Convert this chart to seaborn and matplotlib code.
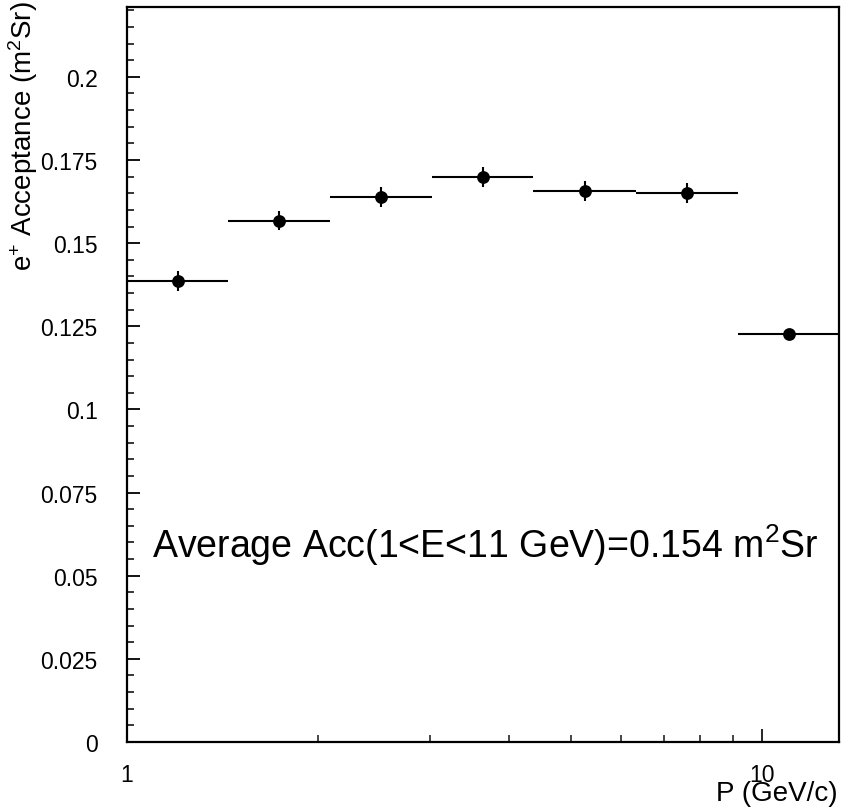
import numpy as np
import pandas as pd
import matplotlib
matplotlib.use("Agg")
import matplotlib.pyplot as plt
import matplotlib.transforms as mtrans
import seaborn as sns
from matplotlib.ticker import FixedLocator, NullFormatter, MultipleLocator

# ---- data ----
bin_edges = [1.0, 1.444, 2.088, 3.022, 4.363, 6.326, 9.167, 13.22]
acceptance = [0.1387, 0.1568, 0.1639, 0.1698, 0.1658, 0.1650, 0.1227]
acc_err = [0.0030, 0.0030, 0.0030, 0.0030, 0.0030, 0.0030, 0.0008]
y_ticks = [0, 0.025, 0.05, 0.075, 0.1, 0.125, 0.15, 0.175, 0.2]
y_tick_labels = ["0", "0.025", "0.05", "0.075", "0.1", "0.125", "0.15", "0.175", "0.2"]
x_ticks = [1, 10]
x_tick_labels = ["1", "10"]
annotation = r"Average Acc(1<E<11 GeV)=0.154 m$^2$Sr"

edges = np.array(bin_edges)
centers = np.sqrt(edges[:-1] * edges[1:])
df = pd.DataFrame({"p": centers, "acc": acceptance, "err": acc_err,
                   "lo": centers - edges[:-1], "hi": edges[1:] - centers})

sns.set_theme(style="white")
plt.rcParams["font.family"] = ["Liberation Sans", "DejaVu Sans"]
plt.rcParams["mathtext.fontset"] = "custom"
plt.rcParams["mathtext.rm"] = "Liberation Sans"
plt.rcParams["mathtext.it"] = "Liberation Sans"

fig = plt.figure(figsize=(8.42, 8.12), dpi=100)
ax = fig.add_axes([127 / 842, 1 - 743 / 812, (839 - 127) / 842, (743 - 8) / 812])

ax.errorbar(df["p"], df["acc"], xerr=[df["lo"], df["hi"]], yerr=df["err"],
            fmt="none", ecolor="black", elinewidth=1.5, capsize=0)
sns.scatterplot(data=df, x="p", y="acc", ax=ax, color="black", s=85,
                edgecolor="black", linewidth=0, zorder=3, legend=False)

ax.set_xscale("log")
ax.set_xlim(1.0, 13.22)
ax.set_ylim(0, 0.221)

for s in ax.spines.values():
    s.set_color("black")
    s.set_linewidth(1.6)

ax.set_yticks(y_ticks)
ax.set_yticklabels(y_tick_labels)
ax.yaxis.set_minor_locator(MultipleLocator(0.005))
ax.xaxis.set_major_locator(FixedLocator(x_ticks))
ax.xaxis.set_minor_locator(FixedLocator([2, 3, 4, 5, 6, 7, 8, 9]))
ax.xaxis.set_minor_formatter(NullFormatter())
ax.set_xticklabels(x_tick_labels)
ax.tick_params(axis="y", which="major", direction="in", length=9.5, width=1.3,
               labelsize=16.5, pad=21, left=True, right=False, colors="black")
ax.tick_params(axis="y", which="minor", direction="in", length=5, width=1.3,
               left=True, right=False)
ax.tick_params(axis="x", which="major", direction="in", length=9.5, width=1.2,
               labelsize=16.5, pad=15, bottom=True, top=False, colors="black")
ax.tick_params(axis="x", which="minor", direction="in", length=5, width=1.2,
               bottom=True, top=False)

ax.set_xlabel("")
ax.set_ylabel("")
fig.text(838 / 842, 1 - 801 / 812, "P (GeV/c)", ha="right", va="baseline",
         fontsize=20, color="black")
fig.text(6 / 842, 1 - 1 / 812, r"e$^{+}$ Acceptance (m$^{2}$Sr)", rotation=90,
         ha="left", va="top", fontsize=20, color="black")

trans = mtrans.blended_transform_factory(fig.dpi_scale_trans, ax.transData)
ax.text(152 / 100, 0.0555, annotation, transform=trans, fontsize=27,
        ha="left", va="baseline", color="black")

fig.savefig("out.png", dpi=100, facecolor="white")
